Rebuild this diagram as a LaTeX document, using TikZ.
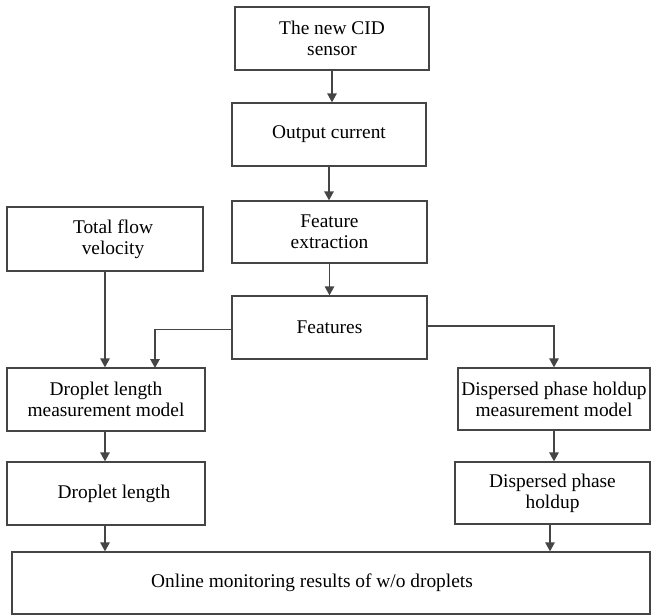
\documentclass[tikz,border=0pt]{standalone}
\usepackage{fontspec}
\setmainfont{Liberation Serif}
\usetikzlibrary{arrows.meta,positioning}
\definecolor{linegray}{HTML}{454545}
\tikzset{
  box/.style={draw=linegray, line width=1.3pt, inner sep=0pt, align=center,
    font=\fontsize{19.4}{21}\selectfont, text=black},
  arr/.style={draw=linegray, line width=1.3pt, -{Triangle[length=9pt,width=9.5pt]}},
}
\begin{document}
\begin{tikzpicture}[x=1pt,y=-1pt]
\useasboundingbox (0,0) rectangle (651,616);
\node[box, minimum width=194, minimum height=63] (cid) at (332,38.5) {The new CID\\sensor};
\node[box, minimum width=194, minimum height=63] (oc) at (329,134.5) {Output current};
\node[box, minimum width=195, minimum height=62] (fe) at (329.5,232) {Feature\\extraction};
\node[box, minimum width=196, minimum height=64] (tf) at (105,239) {\hspace*{16pt}Total flow\\\hspace*{16pt}velocity};
\node[box, minimum width=195, minimum height=63] (feat) at (329.5,327.5) {Features};
\node[box, minimum width=198, minimum height=63] (dlm) at (106,399.5) {Droplet length\\measurement model};
\node[box, minimum width=192, minimum height=62] (dpm) at (554,399) {Dispersed phase holdup\\measurement model};
\node[box, minimum width=198, minimum height=63] (dl) at (106,493.5) {\hspace*{16pt}Droplet length};
\node[box, minimum width=195, minimum height=62] (dph) at (552.5,493) {Dispersed phase\\holdup};
\node[box, minimum width=638, minimum height=62] (onl) at (331,583) {Online monitoring results of w/o droplets\hspace*{38pt}};
\coordinate (dlmin) at (155,368);
\draw[arr] (cid.south) -- (cid.south |- oc.north);
\draw[arr] (oc.south) -- (oc.south |- fe.north);
\draw[arr] (fe.south) -- (fe.south |- feat.north);
\draw[arr] (tf.south) -- (tf.south |- dlm.north);
\draw[arr] ([yshift=-2]feat.west) -| (dlmin);
\draw[arr] ([yshift=1.5]feat.east) -| (dpm.north);
\draw[arr] ([xshift=-1]dlm.south) -- ([xshift=-1]dlm.south |- dl.north);
\draw[arr] (dpm.south) -- (dpm.south |- dph.north);
\draw[arr] ([xshift=-1]dl.south) -- ([xshift=-1]dl.south |- onl.north);
\draw[arr] ([xshift=-2.5]dph.south) -- ([xshift=-2.5]dph.south |- onl.north);
\end{tikzpicture}
\end{document}
